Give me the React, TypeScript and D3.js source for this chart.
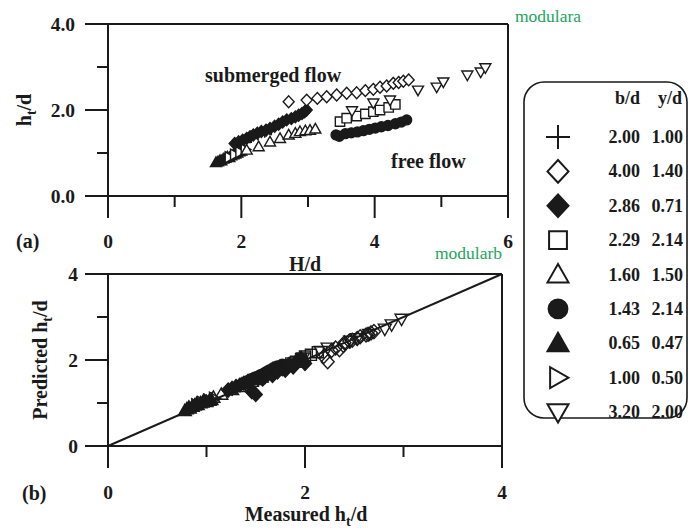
import React from 'react';
import * as d3 from 'd3';

const W = 699;
const H = 531;

// ---------- legend ----------
const seriesKeys = ['plus', 'diamondOpen', 'diamondFilled', 'square', 'triUp', 'circle', 'triUpFilled', 'triRight', 'triDown'];
const bdValues = ['2.00', '4.00', '2.86', '2.29', '1.60', '1.43', '0.65', '1.00', '3.20'];
const ydValues = ['1.00', '1.40', '0.71', '2.14', '1.50', '2.14', '0.47', '0.50', '2.00'];

// ---------- data: H/d, measured ht/d, predicted ht/d ----------
const plusH = [2.05, 2.15, 2.25, 2.35, 2.45];
const plusHt = [1.30, 1.36, 1.42, 1.48, 1.54];
const plusPred = [1.40, 1.46, 1.50, 1.56, 1.60];

const diamondOpenH = [2.71, 2.98, 3.14, 3.28, 3.43, 3.58, 3.73, 3.86, 3.98, 4.08, 4.18, 4.28, 4.36, 4.43, 4.51];
const diamondOpenHt = [2.19, 2.23, 2.27, 2.31, 2.35, 2.39, 2.40, 2.45, 2.48, 2.53, 2.56, 2.62, 2.64, 2.67, 2.70];
const diamondOpenPred = [2.08, 1.96, 2.22, 2.28, 2.24, 2.34, 2.40, 2.44, 2.46, 2.50, 2.54, 2.58, 2.60, 2.63, 2.66];

const diamondFilledH = [1.90, 1.96, 2.02, 2.08, 2.13, 2.18, 2.24, 2.30, 2.37, 2.43, 2.50, 2.56, 2.62, 2.68, 2.75, 2.81, 2.86, 2.91, 2.95, 2.98];
const diamondFilledHt = [1.22, 1.26, 1.30, 1.34, 1.38, 1.42, 1.46, 1.50, 1.53, 1.57, 1.62, 1.67, 1.72, 1.77, 1.80, 1.84, 1.88, 1.92, 1.96, 2.00];
const diamondFilledPred = [1.30, 1.34, 1.38, 1.42, 1.46, 1.50, 1.26, 1.20, 1.58, 1.56, 1.66, 1.64, 1.72, 1.80, 1.76, 1.90, 1.84, 1.98, 2.04, 1.92];

const squareH = [3.48, 3.58, 3.73, 3.86, 3.98, 4.08, 4.21, 4.31];
const squareHt = [1.73, 1.81, 1.86, 1.91, 1.96, 2.00, 2.06, 2.13];
const squarePred = [1.82, 1.88, 1.92, 1.96, 2.02, 2.08, 2.12, 2.18];

const triUpH = [2.08, 2.26, 2.43, 2.58, 2.71, 2.81, 2.88, 2.96, 3.03, 3.11];
const triUpHt = [1.07, 1.15, 1.26, 1.34, 1.42, 1.46, 1.50, 1.52, 1.53, 1.56];
const triUpPred = [1.13, 1.20, 1.31, 1.38, 1.46, 1.50, 1.54, 1.56, 1.57, 1.60];

const circleH = [3.42, 3.47, 3.56, 3.65, 3.74, 3.83, 3.92, 4.01, 4.10, 4.20, 4.31, 4.40, 4.48];
const circleHt = [1.42, 1.39, 1.45, 1.47, 1.49, 1.52, 1.55, 1.58, 1.61, 1.64, 1.68, 1.72, 1.77];
const circlePred = [1.50, 1.46, 1.54, 1.55, 1.58, 1.60, 1.64, 1.67, 1.71, 1.75, 1.80, 1.84, 1.88];

const triUpFilledH = [1.62, 1.65, 1.68, 1.70, 1.73, 1.76, 1.79, 1.82, 1.85, 1.88, 1.91, 1.94, 1.97, 2.00];
const triUpFilledHt = [0.78, 0.80, 0.83, 0.82, 0.86, 0.88, 0.91, 0.90, 0.94, 0.96, 0.98, 1.00, 1.03, 1.05];
const triUpFilledPred = [0.82, 0.86, 0.88, 0.90, 0.92, 0.95, 0.96, 0.99, 1.00, 1.02, 1.04, 1.03, 1.06, 1.08];

const triRightH = [1.82, 1.90, 1.98, 2.06];
const triRightHt = [0.90, 0.96, 1.02, 1.08];
const triRightPred = [0.95, 1.00, 1.06, 1.10];

const triDownH = [3.66, 3.98, 4.23, 4.65, 4.93, 5.03, 5.39, 5.59, 5.66];
const triDownHt = [1.98, 2.16, 2.23, 2.46, 2.53, 2.65, 2.81, 2.88, 2.98];
const triDownPred = [2.05, 2.20, 2.28, 2.44, 2.50, 2.60, 2.72, 2.82, 2.95];

const seriesData: Record<string, { h: number[]; ht: number[]; pred: number[] }> = {
  plus: { h: plusH, ht: plusHt, pred: plusPred },
  diamondOpen: { h: diamondOpenH, ht: diamondOpenHt, pred: diamondOpenPred },
  diamondFilled: { h: diamondFilledH, ht: diamondFilledHt, pred: diamondFilledPred },
  square: { h: squareH, ht: squareHt, pred: squarePred },
  triUp: { h: triUpH, ht: triUpHt, pred: triUpPred },
  circle: { h: circleH, ht: circleHt, pred: circlePred },
  triUpFilled: { h: triUpFilledH, ht: triUpFilledHt, pred: triUpFilledPred },
  triRight: { h: triRightH, ht: triRightHt, pred: triRightPred },
  triDown: { h: triDownH, ht: triDownHt, pred: triDownPred },
};
// drawing order
const drawOrderA = ['triUpFilled', 'plus', 'diamondFilled', 'circle', 'triRight', 'triUp', 'square', 'triDown', 'diamondOpen'];
const drawOrderB = ['triUpFilled', 'plus', 'circle', 'diamondFilled', 'triRight', 'triUp', 'triDown', 'square', 'diamondOpen'];

// ---------- ticks ----------
const aXMajor = [0, 2, 4, 6];
const aXMinor = [1, 3, 5];
const aYMajor = [0, 2, 4];
const aYMinor = [1, 3];
const aYLabels = ['0.0', '2.0', '4.0'];
const bMajor = [0, 2, 4];
const bMinor = [1, 3];

const FONT = "'Liberation Serif', 'Times New Roman', serif";
const INK = '#1a1a1a';

function shapePath(key: string, s: number): string {
  switch (key) {
    case 'plus':
      return `M${-s},0H${s}M0,${-s}V${s}`;
    case 'diamondOpen':
    case 'diamondFilled':
      return `M0,${-s * 1.08}L${s},0L0,${s * 1.08}L${-s},0Z`;
    case 'square': {
      const q = s * 0.85;
      return `M${-q},${-q}H${q}V${q}H${-q}Z`;
    }
    case 'triUp':
    case 'triUpFilled':
      return `M0,${-s}L${s},${s * 0.75}L${-s},${s * 0.75}Z`;
    case 'triDown':
      return `M0,${s}L${s},${-s * 0.75}L${-s},${-s * 0.75}Z`;
    case 'triRight':
      return `M${s},0L${-s * 0.75},${s}L${-s * 0.75},${-s}Z`;
    case 'circle':
    default: {
      const r = s * 0.9;
      return `M${r},0A${r},${r} 0 1,1 ${-r},0A${r},${r} 0 1,1 ${r},0Z`;
    }
  }
}
const isFilled = (k: string) => k === 'diamondFilled' || k === 'circle' || k === 'triUpFilled';

function Marker({ k, x, y, s, sw, hollow }: { k: string; x: number; y: number; s: number; sw: number; hollow?: boolean }) {
  const filled = isFilled(k);
  return (
    <path
      d={shapePath(k, s)}
      transform={`translate(${x},${y})`}
      fill={k === 'plus' ? 'none' : filled ? INK : hollow ? 'none' : '#fff'}
      stroke={INK}
      strokeWidth={sw}
      strokeLinejoin="miter"
    />
  );
}

function Frame({ x, y, major, minor, left, right, top, bottom }: any) {
  return (
    <g stroke={INK} strokeWidth={2} fill="none">
      <line x1={left} x2={right} y1={top} y2={top} />
      <line x1={left} x2={right} y1={bottom} y2={bottom} />
      <line x1={left} x2={left} y1={top} y2={bottom} />
      <line x1={right} x2={right} y1={top} y2={bottom} />
      {major.x.map((v: number) => (
        <line key={'mx' + v} x1={x(v)} x2={x(v)} y1={bottom} y2={bottom + 22} />
      ))}
      {minor.x.map((v: number) => (
        <line key={'nx' + v} x1={x(v)} x2={x(v)} y1={bottom} y2={bottom + 11} />
      ))}
      {major.y.map((v: number) => (
        <line key={'my' + v} x1={left - 23} x2={left} y1={y(v)} y2={y(v)} />
      ))}
      {minor.y.map((v: number) => (
        <line key={'ny' + v} x1={left - 11} x2={left} y1={y(v)} y2={y(v)} />
      ))}
    </g>
  );
}

export default function App() {
  // panel (a)
  const ax = d3.scaleLinear().domain([0, 6]).range([108, 508]);
  const ay = d3.scaleLinear().domain([0, 4]).range([196, 24]);
  // panel (b)
  const bx = d3.scaleLinear().domain([0, 4]).range([108, 502]);
  const by = d3.scaleLinear().domain([0, 4]).range([446, 274]);

  const legendRows = d3.scaleLinear().domain([0, seriesKeys.length - 1]).range([137, 412]);
  const diag = d3.line<number>().x((v) => bx(v)).y((v) => by(v));

  const tickFont = { fontFamily: FONT, fontWeight: 'bold' as const, fontSize: 19.5, fill: INK };
  const labelFont = { ...tickFont, fontSize: 20 };

  return (
    <svg width={W} height={H} style={{ position: 'absolute', left: 0, top: 0, background: '#fff' }}>
      <rect width={W} height={H} fill="#fff" />

      {/* ---------- panel (a) ---------- */}
      <Frame x={ax} y={ay} major={{ x: aXMajor, y: aYMajor }} minor={{ x: aXMinor, y: aYMinor }}
        left={ax(0)} right={ax(6)} top={ay(4)} bottom={ay(0)} />
      {aYMajor.map((v, i) => (
        <text key={'aly' + v} x={75} y={ay(v) + 6.5} textAnchor="end" {...tickFont}>{aYLabels[i]}</text>
      ))}
      {aXMajor.map((v) => (
        <text key={'alx' + v} x={ax(v)} y={248} textAnchor="middle" {...tickFont}>{v}</text>
      ))}
      <text x={16} y={248} {...labelFont}>(a)</text>
      <text x={ax(3) - 3} y={271} textAnchor="middle" {...labelFont}>H/d</text>
      <text transform="translate(31,110) rotate(-90)" textAnchor="middle" {...labelFont}>
        h<tspan dy={5} fontSize={14}>t</tspan><tspan dy={-5}>/d</tspan>
      </text>
      <text x={205} y={82} {...tickFont} fontSize={20}>submerged flow</text>
      <text x={391} y={168} {...tickFont} fontSize={20}>free flow</text>
      <text x={515} y={22} fontFamily={FONT} fontSize={17.5} fill="#22a55b">modulara</text>

      {drawOrderA.map((k) =>
        seriesData[k].h.map((h, i) => (
          <Marker key={'a' + k + i} k={k} x={ax(h)} y={ay(seriesData[k].ht[i])} s={5.5} sw={1.4} />
        ))
      )}

      {/* ---------- panel (b) ---------- */}
      <Frame x={bx} y={by} major={{ x: bMajor, y: bMajor }} minor={{ x: bMinor, y: bMinor }}
        left={bx(0)} right={bx(4)} top={by(4)} bottom={by(0)} />
      {bMajor.map((v) => (
        <text key={'bly' + v} x={78} y={by(v) + 6.5} textAnchor="end" {...tickFont}>{v}</text>
      ))}
      {bMajor.map((v) => (
        <text key={'blx' + v} x={bx(v)} y={499} textAnchor="middle" {...tickFont}>{v}</text>
      ))}
      <text x={22} y={500} {...labelFont}>(b)</text>
      <text x={306} y={521} textAnchor="middle" {...labelFont}>
        Measured h<tspan dy={5} fontSize={14}>t</tspan><tspan dy={-5}>/d</tspan>
      </text>
      <text transform="translate(47,360) rotate(-90)" textAnchor="middle" {...labelFont}>
        Predicted h<tspan dy={5} fontSize={14}>t</tspan><tspan dy={-5}>/d</tspan>
      </text>
      <text x={435} y={259} fontFamily={FONT} fontSize={17.5} fill="#22a55b">modularb</text>

      <path d={diag([0, 4]) || ''} stroke={INK} strokeWidth={2} fill="none" />
      {drawOrderB.map((k) =>
        seriesData[k].ht.map((m, i) => (
          <Marker key={'b' + k + i} k={k} x={bx(m)} y={by(seriesData[k].pred[i])} s={6.5} sw={1.4} hollow />
        ))
      )}

      {/* ---------- legend ---------- */}
      <rect x={524} y={82} width={163} height={336} rx={20} ry={20} fill="#fff" stroke={INK} strokeWidth={1.6} />
      <text x={640} y={104} textAnchor="end" {...tickFont} fontSize={18}>b/d</text>
      <text x={682} y={104} textAnchor="end" {...tickFont} fontSize={18}>y/d</text>
      {seriesKeys.map((k, i) => {
        const yy = legendRows(i);
        return (
          <g key={'lg' + k}>
            <Marker k={k} x={558} y={yy} s={k === 'plus' ? 12 : 10.5} sw={2} />
            <text x={640} y={yy + 6} textAnchor="end" {...tickFont} fontSize={18}>{bdValues[i]}</text>
            <text x={683} y={yy + 6} textAnchor="end" {...tickFont} fontSize={18}>{ydValues[i]}</text>
          </g>
        );
      })}
    </svg>
  );
}
